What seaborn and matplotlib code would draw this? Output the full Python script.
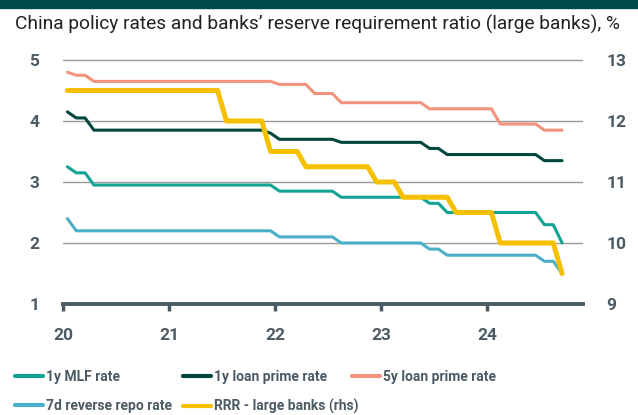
import numpy as np
import pandas as pd
import matplotlib
matplotlib.use("Agg")
import matplotlib.pyplot as plt
import seaborn as sns
from matplotlib.lines import Line2D

sns.set_theme(style="white")
plt.rcParams['font.family'] = ['Roboto', 'DejaVu Sans']

# Monthly observations, Jan 2020 .. Sep 2024 (57 months)
n_months = 57
mlf_1y = [3.25, 3.15, 3.15] + [2.95] * 21 + [2.85] * 7 + [2.75] * 10 + [2.65] * 2 + [2.50] * 11 + [2.30] * 2 + [2.00]
lpr_1y = [4.15, 4.05, 4.05] + [3.85] * 20 + [3.80] + [3.70] * 7 + [3.65] * 10 + [3.55] * 2 + [3.45] * 11 + [3.35] * 3
lpr_5y = [4.80, 4.75, 4.75] + [4.65] * 21 + [4.60] * 4 + [4.45] * 3 + [4.30] * 10 + [4.20] * 8 + [3.95] * 5 + [3.85] * 3
repo_7d = [2.40] + [2.20] * 23 + [2.10] * 7 + [2.00] * 10 + [1.90] * 2 + [1.80] * 11 + [1.70] * 2 + [1.50]
rrr_large = [12.5] * 18 + [12.0] * 5 + [11.5] * 4 + [11.25] * 8 + [11.0] * 3 + [10.75] * 6 + [10.5] * 5 + [10.0] * 7 + [9.5]

year_ticks = [20, 21, 22, 23, 24]
left_ticks = [1, 2, 3, 4, 5]
right_ticks = [9, 10, 11, 12, 13]

months = np.arange(n_months)
xpos = 20 + (months + 0.5) / 12.0
df = pd.DataFrame({"x": xpos, "mlf": mlf_1y, "lpr1": lpr_1y, "lpr5": lpr_5y,
                   "repo": repo_7d, "rrr": rrr_large})

C_MLF = "#12a394"
C_LPR1 = "#00473f"
C_LPR5 = "#f2937c"
C_REPO = "#4cafc9"
C_RRR = "#f5c000"
C_AX = "#4b5a63"

W, H = 638, 415
fig = plt.figure(figsize=(W / 100, H / 100), dpi=100)
ax = fig.add_axes([63 / W, 1 - 304 / H, (583 - 63) / W, (304 - 54) / H])

# banner at top
fig.patches.append(plt.Rectangle((0, 1 - 8 / H), 1, 8 / H, transform=fig.transFigure,
                                 color="#004b4b", zorder=0))
fig.text(15 / W, 1 - 24 / H, "China policy rates and banks\u2019 reserve requirement ratio (large banks), %",
         fontsize=13.8, color="#222222", va="center", ha="left")

lw = 2.2
sns.lineplot(data=df, x="x", y="mlf", ax=ax, color=C_MLF, lw=lw, zorder=3)
sns.lineplot(data=df, x="x", y="lpr1", ax=ax, color=C_LPR1, lw=lw, zorder=3)
sns.lineplot(data=df, x="x", y="lpr5", ax=ax, color=C_LPR5, lw=lw, zorder=3)
sns.lineplot(data=df, x="x", y="repo", ax=ax, color=C_REPO, lw=lw, zorder=3)

ax.set_xlim(20, 20 + (583 - 63) / 106)
ax.set_ylim(1, 5 + 6 / 61)
ax.set_yticks(left_ticks)
ax.set_xticks(year_ticks)
ax.set_xticklabels([str(t) for t in year_ticks])
ax.set_xlabel("")
ax.set_ylabel("")
for t in left_ticks[1:]:
    ax.axhline(t, color="#9a9a9a", lw=1, zorder=1)

ax2 = ax.twinx()
sns.lineplot(data=df, x="x", y="rrr", ax=ax2, color=C_RRR, lw=3.6, zorder=4)
ax2.set_ylim(9, 13 + 6 / 61)
ax2.set_yticks(right_ticks)
ax2.set_ylabel("")

for a in (ax, ax2):
    for s in ["top", "right", "left", "bottom"]:
        a.spines[s].set_visible(False)
    a.grid(False)

ax.spines["bottom"].set_visible(True)
ax.spines["bottom"].set_color(C_AX)
ax.spines["bottom"].set_linewidth(2.8)
ax.tick_params(axis="x", bottom=True, direction="out", length=5, width=2.5, color=C_AX, pad=12,
               labelsize=12.5, labelcolor=C_AX)
ax.tick_params(axis="y", left=False, length=0, pad=17, labelsize=12.5, labelcolor=C_AX)
ax2.tick_params(axis="y", right=False, length=0, pad=17, labelsize=12.5, labelcolor=C_AX)
for lab in ax.get_xticklabels() + ax.get_yticklabels() + ax2.get_yticklabels():
    lab.set_fontweight("bold")

def handle(c):
    return Line2D([0], [0], color=c, lw=3)

cols = [
    (15, [(C_MLF, "1y MLF rate"), (C_REPO, "7d reverse repo rate")]),
    (183, [(C_LPR1, "1y loan prime rate"), (C_RRR, "RRR - large banks (rhs)")]),
    (352, [(C_LPR5, "5y loan prime rate")]),
]
for x0, items in cols:
    leg = fig.legend([handle(c) for c, _ in items], [l for _, l in items],
                     loc="upper left", bbox_to_anchor=(x0 / W, 1 - 370 / H),
                     frameon=False, fontsize=10, handlelength=2.0, handletextpad=0.25,
                     labelspacing=1.1, borderaxespad=0, borderpad=0)
    for t in leg.get_texts():
        t.set_color(C_AX)
        t.set_fontweight("bold")

fig.savefig("out.png", dpi=100)
